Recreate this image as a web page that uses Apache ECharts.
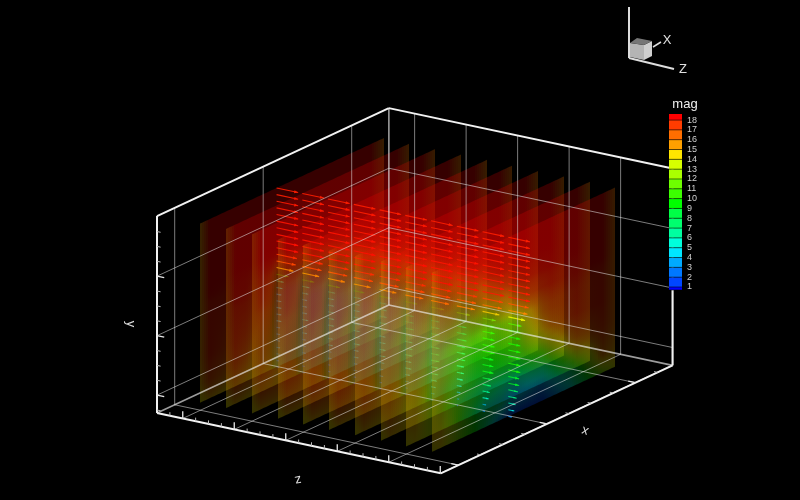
<!DOCTYPE html>
<html>
<head>
<meta charset="utf-8">
<style>html,body{margin:0;padding:0;background:#000;}#c{width:800px;height:500px;}</style>
<script src="https://cdn.jsdelivr.net/npm/echarts@6/dist/echarts.min.js"></script>
</head>
<body>
<div id="c"></div>
<script>
// ---- colour legend ----
const levels = [18,17,16,15,14,13,12,11,10,9,8,7,6,5,4,3,2,1];
const bandColors = ['#0000ff','#0046ff','#0078ff','#00aaff','#00e6ff','#00ffdc','#00ffa0','#00ff6e','#00ff46','#00ff00','#3cff00','#6eff00','#aaff00','#d7ff00','#ffe600','#ffa000','#ff6e00','#ff3c00','#ff0000'];
// ---- axis ticks (plot units) ----
const xMajor = [0.2,1.2,2.2];
const yMajor = [0.3,1.3,2.3];
const zMajor = [0.5,1.5,2.5,3.5,4.5,5.5];
const xMinor = [0.45,0.7,0.95,1.45,1.7,1.95,2.45];
const yMinor = [0.05,0.55,0.8,1.05,1.55,1.8,2.05,2.55,2.8,3.05];
const zMinor = [0.25,0.75,1,1.25,1.75,2,2.25,2.75,3,3.25,3.75,4,4.25,4.75,5,5.25];
const xMax = 2.62, yMax = 3.31, zMax = 5.51;
// ---- slice planes ----
const sliceZ = [0.5,1,1.5,2,2.5,3,3.5,4,4.5,5];
const fieldU = [0,0.05,0.25,0.38,0.43,0.6,0.75,0.93,1];   // fraction along x
const fieldV = [0,0.2,0.36,0.42,0.47,0.6,0.75,0.9,1];     // fraction down y
const slice0 = [
[15.5,18.5,18.5,18.5,18.5,18.5,18.5,18.5,16],[15.5,18.5,18.5,18.5,18.5,18.5,18.5,18.5,16],[15.5,18.5,18.5,18.5,18.5,18.5,18.5,18.5,16],
[15.5,18.5,18,17,15,16,17,18,16],[15.5,18,18,15,10,11,15,18,16],[15.5,18,17.5,14,4.5,4.5,7,18,16],
[15.5,18,16.5,12,4,4,7,17.5,16],[15,17,15,11,4,4,7,17,15],[14,15,14,12,4.5,4.5,8,15,14]];
const slice1 = [
[15.5,18.5,18.5,18.5,18.5,18.5,18.5,18.5,16],[15.5,18.5,18.5,18.5,18.5,18.5,18.5,18.5,16],[15.5,18.5,18.5,18.5,18.5,18.5,18.5,18.5,16],
[15.5,18.5,18,17,15,16,17,18,16],[15.5,18,18,15,10,10,15,18,16],[15.5,18,17.5,14,4.5,4,7,18,16],
[15.5,18,16.5,12,3.5,3.5,6,17.5,16],[15,17,15,11,3.5,3.5,7,17,15],[14,15,14,12,4.5,4.5,8,15,14]];
const slice2 = [
[15.5,18.5,18.5,18.5,18.5,18.5,18.5,18.5,16],[15.5,18.5,18.5,18.5,18.5,18.5,18.5,18.5,16],[15.5,18.5,18.5,18.5,18.5,18.5,18.5,18.5,16],
[15.5,18.5,18,17,15,16,17,18,16],[15.5,18,18,15,10,10,15,18,16],[15.5,18,17.5,14.5,4.5,4,7,18,16],
[15.5,18,17,13,3.5,3.5,6,17.5,16],[15,17,16,12,3.5,3.5,7,17,15],[14,15,15,13,4.5,4.5,8,15,14]];
const slice3 = [
[15.5,18.5,18.5,18.5,18.5,18.5,18.5,18.5,16],[15.5,18.5,18.5,18.5,18.5,18.5,18.5,18.5,16],[15.5,18.5,18.5,18.5,18.5,18.5,18.5,18.5,16],
[15.5,18.5,18,17,15,16,17,18,16],[15.5,18,18,15,10,10,15,18,16],[15.5,18,17.5,14.5,5,4.5,8,18,16],
[15.5,18,17,13,4,4,7,17.5,16],[15,17,16,12,3.5,3.5,7,17,15],[14,15,15,13,4.5,4.5,8,15,14]];
const slice4 = [
[15.5,18.5,18.5,18.5,18.5,18.5,18.5,18.5,16],[15.5,18.5,18.5,18.5,18.5,18.5,18.5,18.5,16],[15.5,18.5,18.5,18.5,18.5,18.5,18.5,18.5,16],
[15.5,18.5,18,17,15,16,17,18,16],[15.5,18,18,15,10,11,15,18,16],[15.5,18,17,14,5.5,5,9,18,16],
[15.5,18,16.5,13,4.5,4.5,8,17.5,16],[15,17,16,12,4,3.5,7,17,15],[14,15,15,13,4.5,4.5,8,15,14]];
const slice5 = [
[15.5,18.5,18.5,18.5,18.5,18.5,18.5,18.5,16],[15.5,18.5,18.5,18.5,18.5,18.5,18.5,18.5,16],[15.5,18.5,18.5,18.5,18.5,18.5,18.5,18.5,16],
[15.5,18.5,18,16.5,15,16,17,18,16],[15.5,18,17.5,14,10,12,15.5,18,16],[15.5,18,17,14,6,6,10,18,16],
[15.5,18,16.5,13,5,5,9,17.5,16],[15,17,15.5,12,4.5,4,8,17,15],[14,15,15,13,4.5,4.5,8,15,14]];
const slice6 = [
[15.5,18.5,18.5,18.5,18.5,18.5,18.5,18.5,16],[15.5,18.5,18.5,18.5,18.5,18.5,18.5,18.5,16],[15.5,18.5,18.5,18.5,18.5,18.5,18.5,18.5,16],
[15.5,18.5,18,16.5,15,16,17,18,16],[15.5,18,17,14,10,13,16,18,16],[15.5,17.5,16,13.5,7,7,12,18,16],
[15.5,17.5,15.5,12,6,7,10,17.5,16],[15,16.5,14.5,11,5.5,8,10,17,15],[14,15,14,12,4.5,5,9,15,14]];
const slice7 = [
[15.5,18.5,18.5,18.5,18.5,18.5,18.5,18.5,16],[15.5,18.5,18.5,18.5,18.5,18.5,18.5,18.5,16],[15.5,18.5,18.5,18.5,18.5,18.5,18.5,18.5,16],
[15.5,18.5,18,16.5,15,16,17,18,16],[15.5,18,16.5,13,10,14,16.5,18,16],[15.5,17,15.5,11,9,10,15,18,16],
[15.5,17,14,10,9.5,10,13,17.5,16],[15,16,13,9,7,9,10,17,15],[14,15,14,9,4.5,4,8,15,14]];
const slice8 = [
[15.5,18.5,18.5,18.5,18.5,18.5,18.5,18.5,16],[15.5,18.5,18.5,18.5,18.5,18.5,18.5,18.5,16],[15.5,18.5,18.5,18.5,18.5,18.5,18.5,18.5,16],
[15.5,18.5,18,16.5,15.5,16,17,18,16],[15.5,17.5,16,13,11,14.5,17,18,16],[15.5,17,13.5,10,10,11.5,16.5,18,16],
[15,16,11.5,10,10,9,14,17.5,16],[15,15,10,8,6,4.5,8,16,15],[14,14.5,11,5,3,2.5,6,13,14]];
const slice9 = [
[15.5,18.5,18.5,18.5,18.5,18.5,18.5,18.5,16],[15.5,18.5,18.5,18.5,18.5,18.5,18.5,18.5,16],[15.5,18.5,18.5,18.5,18.5,18.5,18.5,18.5,16],
[15.5,18.5,17.5,16.5,16,17,18,18,16],[15.5,17,14.5,12,11.5,16,17.5,18,16],[15,16.5,11,10,10,14.5,17.5,18,16],
[15,15.5,10.5,10,10,9,15,17.5,16],[15,15,9,7,5,3.5,7,16,15],[14,14.5,9,3,1.5,1.5,5,12,14]];
const sliceFields = [slice0,slice1,slice2,slice3,slice4,slice5,slice6,slice7,slice8,slice9];
// ---- vector magnitudes along each slice's arrow column, top to bottom ----
const arrows0 = [18,18,18,18,18,18,18,18,18,18,17,16,14,10,6,5,4,4,4,4,4,3,3,3,3,3,2,2];
const arrows1 = [18,18,18,18,18,18,18,18,18,18,17,16,14,10,6,5,4,4,4,5,4,4,3,3,3,3,2,2];
const arrows2 = [18,18,18,18,18,18,18,18,18,18,17,16,14,10,6,5,5,5,5,5,4,4,4,3,3,2,2,1];
const arrows3 = [18,18,18,18,18,18,18,18,18,18,17,16,14,9,6,5,5,5,5,5,5,5,4,4,3,3,2,1];
const arrows4 = [18,18,18,18,18,18,18,18,18,18,17,16,14,10,6,6,6,6,6,5,5,5,5,4,3,3,2,1];
const arrows5 = [18,18,18,18,18,18,18,18,18,18,17,16,15,10,7,7,7,7,6,6,6,6,5,5,4,3,2,1];
const arrows6 = [18,18,18,18,18,18,18,18,18,18,17,16,15,11,8,7,7,7,7,7,7,7,6,6,5,4,3,2];
const arrows7 = [18,18,18,18,18,18,18,18,18,18,17,16,15,11,8,8,8,8,7,7,7,6,6,5,4,3,2,1];
const arrows8 = [18,18,18,18,18,18,18,18,18,18,17,16,14,11,10,10,10,10,10,9,9,9,8,7,6,5,3,2];
const arrows9 = [18,18,18,18,18,18,18,18,18,18,17,16,14,11,10,10,10,10,10,10,10,9,9,8,7,6,5,3];
const arrowColumns = [arrows0,arrows1,arrows2,arrows3,arrows4,arrows5,arrows6,arrows7,arrows8,arrows9];

// ---- view projection of the plot box onto the page ----
const view = {ox:157, oy:413, xx:88.5, xy:-41.2, yy:-59.5, zx:51.5, zy:10.95};
const project = (x,y,z) => [view.ox + x*view.xx + z*view.zx, view.oy + x*view.xy + y*view.yy + z*view.zy];
const sliceX0 = 0.2, sliceX1 = 2.27, sliceY0 = 0.13, sliceY1 = 3.14, arrowX = 1.06;
const sliceAlpha = 0.21;

function rgbOf(hex){ return [parseInt(hex.slice(1,3),16),parseInt(hex.slice(3,5),16),parseInt(hex.slice(5,7),16)]; }
const bandRgb = bandColors.map(rgbOf);
function colorOf(v, a){
  const t = Math.max(0, Math.min(bandRgb.length-1, v-0.5));
  const k = Math.min(bandRgb.length-2, Math.floor(t)), f = t-k;
  const c = bandRgb[k].map((q,n)=>Math.round(q+(bandRgb[k+1][n]-q)*f));
  return 'rgba('+c[0]+','+c[1]+','+c[2]+','+a+')';
}
function bracket(arr, t){
  let k = 0; while(k < arr.length-2 && t > arr[k+1]) k++;
  return [k, (t-arr[k])/(arr[k+1]-arr[k])];
}
function fieldAt(field, u, v){
  const [c,fc] = bracket(fieldU,u), [r,fr] = bracket(fieldV,v);
  const a = field[r][c]*(1-fc)+field[r][c+1]*fc, b = field[r+1][c]*(1-fc)+field[r+1][c+1]*fc;
  return a*(1-fr)+b*fr;
}
const stopV = []; for(let k=0;k<=30;k++) stopV.push(k/30);

function sliceSeries(i){
  const z = sliceZ[i], field = sliceFields[i];
  const a = project(sliceX0,sliceY1,z), b = project(sliceX1,sliceY1,z);
  const left = Math.round(a[0]), right = Math.round(b[0]);
  const cols = []; for(let px=left; px<right; px+=2) cols.push([px, Math.min(px+2,right)]);
  return {
    type:'custom', coordinateSystem:'cartesian2d', silent:true, clip:false, animation:false, z:2,
    data: cols,
    renderItem(params, api){
      const xa = api.value(0), xb = api.value(1);
      const ua = (xa-a[0])/(b[0]-a[0]), ub = (xb-a[0])/(b[0]-a[0]);
      const yt = u => project(sliceX0+(sliceX1-sliceX0)*u, sliceY1, z)[1];
      const yb = u => project(sliceX0+(sliceX1-sliceX0)*u, sliceY0, z)[1];
      const pts = [[xa,yt(ua)],[xb,yt(ub)],[xb,yb(ub)],[xa,yb(ua)]].map(p=>api.coord(p));
      const um = Math.max(0,Math.min(1,(ua+ub)/2));
      const stops = stopV.map(v=>({offset:v,color:colorOf(fieldAt(field,um,v),sliceAlpha)}));
      const top = api.coord([xa,(yt(ua)+yt(ub))/2])[1], bot = api.coord([xa,(yb(ua)+yb(ub))/2])[1];
      return {type:'polygon',shape:{points:pts},
        style:{fill:new echarts.graphic.LinearGradient(0,top,0,bot,stops,true),stroke:null}};
    }
  };
}
function arrowSeries(i){
  const z = sliceZ[i], mags = arrowColumns[i];
  return {
    type:'custom', coordinateSystem:'cartesian2d', silent:true, clip:false, animation:false, z:2,
    data: mags.map((m,r)=>[r,m]),
    renderItem(params, api){
      const r = api.value(0), m = api.value(1);
      const y = sliceY1-(sliceY1-sliceY0)*r/(mags.length-1);
      const len = m*0.0233;
      const s = api.coord(project(arrowX,y,z)), e = api.coord(project(arrowX,y,z+len));
      const dx = e[0]-s[0], dy = e[1]-s[1], L = Math.hypot(dx,dy)||1;
      const hl = Math.min(4,L*0.4), ux = dx/L, uy = dy/L;
      const wing = m>8?1.5:0.8;
      const col = colorOf(m,m>12?0.9:(i>6?0.75:0.4));
      return {type:'group',children:[
        {type:'line',shape:{x1:s[0],y1:s[1],x2:e[0],y2:e[1]},style:{stroke:col,lineWidth:1.1}},
        {type:'polygon',shape:{points:[[e[0],e[1]],[e[0]-ux*hl-uy*wing,e[1]-uy*hl+ux*wing],[e[0]-ux*hl+uy*wing,e[1]-uy*hl-ux*wing]]},style:{fill:col}}
      ]};
    }
  };
}
// frame, grid and tick segments in plot units: [x1,y1,z1,x2,y2,z2,kind]
const segs = [];
yMajor.forEach(y=>{ segs.push([0,y,0,xMax,y,0,0]); segs.push([xMax,y,0,xMax,y,zMax,0]); });
xMajor.forEach(x=>{ segs.push([x,0,0,x,yMax,0,0]); segs.push([x,0,0,x,0,zMax,0]); });
zMajor.forEach(z=>{ segs.push([xMax,0,z,xMax,yMax,z,0]); segs.push([0,0,z,xMax,0,z,0]); });
[[0,0,0,0,yMax,0],[0,yMax,0,xMax,yMax,0],[xMax,yMax,0,xMax,yMax,zMax],[xMax,yMax,zMax,xMax,0,zMax],
 [0,0,0,0,0,zMax],[0,0,zMax,xMax,0,zMax]].forEach(s=>segs.push(s.concat([1])));
[[0,0,0,xMax,0,0],[xMax,0,0,xMax,0,zMax],[xMax,0,0,xMax,yMax,0]].forEach(s=>segs.push(s.concat([2])));
zMajor.forEach(z=>segs.push([0,0,z,0,0.12,z,3]));
zMinor.forEach(z=>segs.push([0,0,z,0,0.06,z,4]));
xMajor.forEach(x=>segs.push([x,0,zMax,x,0,zMax-0.14,3]));
xMinor.forEach(x=>segs.push([x,0,zMax,x,0,zMax-0.07,4]));
yMajor.forEach(y=>segs.push([0,y,0,0,y,0.14,3]));
yMinor.forEach(y=>segs.push([0,y,0,0,y,0.07,4]));
const segStyle = [
  {stroke:'rgba(225,225,225,0.55)',lineWidth:1},
  {stroke:'#f2f2f2',lineWidth:2},
  {stroke:'rgba(240,240,240,0.65)',lineWidth:1.6},
  {stroke:'#e8e8e8',lineWidth:1.3},
  {stroke:'#bbbbbb',lineWidth:1}];
const frameSeries = {
  type:'custom',coordinateSystem:'cartesian2d',silent:true,clip:false,animation:false,z:3,
  data:segs,
  renderItem(params,api){
    const v=[0,1,2,3,4,5,6].map(k=>api.value(k));
    const a=api.coord(project(v[0],v[1],v[2])),b=api.coord(project(v[3],v[4],v[5]));
    return {type:'line',shape:{x1:a[0],y1:a[1],x2:b[0],y2:b[1]},style:segStyle[v[6]]};
  }
};
// colour bar: level 1 at y=287, spacing 9.82 px
const barY = l => 287-(l-1)*9.82;
const barSeries = {
  type:'custom',coordinateSystem:'cartesian2d',silent:true,clip:false,animation:false,z:4,
  data:bandColors.map((c,k)=>[k]),
  renderItem(params,api){
    const k=api.value(0);
    const y0=k===0?290:barY(k), y1=k===bandColors.length-1?114:barY(k+1);
    const a=api.coord([669,y1]),b=api.coord([682,y0]);
    return {type:'group',children:[
      {type:'rect',shape:{x:a[0],y:a[1],width:b[0]-a[0],height:b[1]-a[1]},style:{fill:bandColors[k]}},
      {type:'line',shape:{x1:a[0],y1:b[1],x2:b[0],y2:b[1]},style:{stroke:'rgba(0,0,0,0.55)',lineWidth:1}}
    ]};
  }
};
const labelSeries = {
  type:'custom',coordinateSystem:'cartesian2d',silent:true,clip:false,animation:false,z:4,
  data:levels.map(l=>[l]),
  renderItem(params,api){
    const l=api.value(0), p=api.coord([687,barY(l)]);
    return {type:'text',style:{x:p[0],y:p[1],text:String(l),fill:'#d0d0d0',font:'9px "Liberation Sans"',align:'left',verticalAlign:'middle'}};
  }
};
const series=[];
sliceZ.forEach((z,i)=>{ series.push(sliceSeries(i)); series.push(arrowSeries(i)); });
series.push(frameSeries,barSeries,labelSeries);

const txt=(t,x,y,size,rot,fill)=>({type:'text',x,y,rotation:rot,style:{text:t,fill:fill||'#e0e0e0',font:size+'px "Liberation Sans"',align:'center',verticalAlign:'middle'},silent:true});
const ln=(x1,y1,x2,y2,w,c)=>({type:'line',shape:{x1,y1,x2,y2},style:{stroke:c||'#dddddd',lineWidth:w},silent:true});
const pg=(pts,c)=>({type:'polygon',shape:{points:pts},style:{fill:c},silent:true});

const chart=echarts.init(document.getElementById('c'),null,{renderer:'canvas'});
chart.setOption({
  backgroundColor:'#000000',animation:false,
  grid:{left:0,right:0,top:0,bottom:0},
  xAxis:{type:'value',min:0,max:800,show:false},
  yAxis:{type:'value',min:0,max:500,inverse:true,show:false},
  graphic:{elements:[
    txt('y',131,324,13,-Math.PI/2),
    txt('z',298,480,13,Math.PI+0.2),
    txt('x',585,431,13,Math.PI*0.9),
    txt('mag',685,104,13,0,'#f0f0f0'),
    ln(629,7,629,58,2),ln(629,58,674,69,2),ln(653,47,661,42,1.5),
    pg([[630,43],[644,45],[644,60],[630,57]],'#b4b4b4'),
    pg([[644,45],[652,41],[652,56],[644,60]],'#cfcfcf'),
    pg([[630,43],[637,38],[652,41],[644,45]],'#767676'),
    txt('X',667,40,13,0),txt('Z',683,69,13,0)
  ]},
  series
});
</script>
</body>
</html>
